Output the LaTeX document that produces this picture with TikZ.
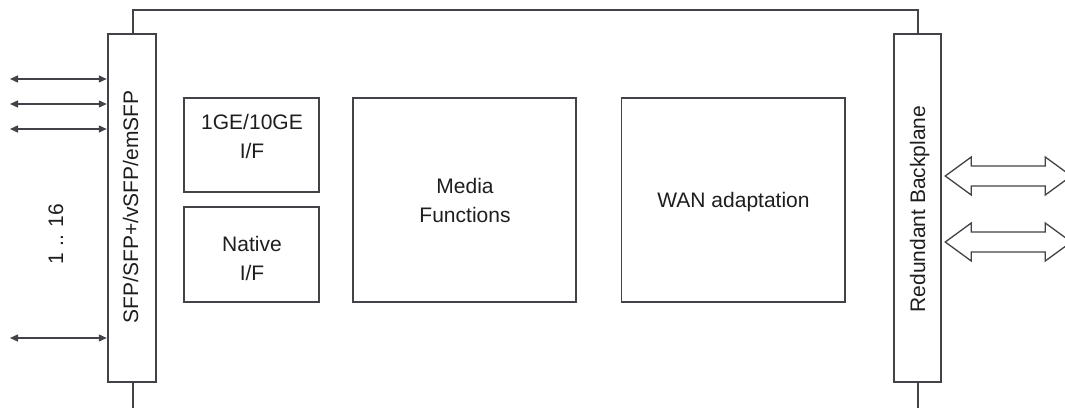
\documentclass[tikz,border=0pt]{standalone}
\usepackage{fontspec}
\setmainfont{Liberation Sans}
\usetikzlibrary{arrows.meta,calc}
\definecolor{linec}{RGB}{66,66,72}
\definecolor{textc}{RGB}{30,30,30}
\tikzset{
  blk/.style={draw=linec, line width=1.5pt, fill=white, inner sep=0pt, minimum width=#1},
  lbl/.style={text=textc, font=\fontsize{21}{29}\selectfont, align=center, inner sep=0pt},
  wire/.style={draw=linec, line width=1.5pt},
  port/.style={draw=linec, line width=1.3pt, {Triangle[length=8pt,width=7pt]}-{Triangle[length=8pt,width=7pt]}, shorten >=0.5pt},
  bigarrow/.style={draw=linec, line width=1.3pt, fill=white, line join=miter},
}
\begin{document}
\begin{tikzpicture}[x=1pt,y=1pt]
\useasboundingbox (0,0) rectangle (1065,408);
% rails
\coordinate (topL) at (133,398);
\coordinate (topR) at (918,398);
\coordinate (botL) at (133,0);
\coordinate (botR) at (918,0);
% SFP and backplane blocks
\node[blk=48, minimum height=348] (sfp) at (132,200) {};
\node[blk=47, minimum height=348] (bp) at (917.5,200) {};
\draw[wire] (sfp.north -| topL) -- (topL) -- (topR) -- (bp.north -| topR);
\draw[wire] (sfp.south -| botL) -- (botL);
\draw[wire] (bp.south -| botR) -- (botR);
\node[lbl, rotate=90, anchor=base] (sfpt) at (138,201) {SFP/SFP+/vSFP/emSFP};
\node[lbl, rotate=90, anchor=base] (bpt) at (925,199) {Redundant Backplane};
% inner blocks
\node[blk=135, minimum height=94] (ge) at (251.5,263) {};
\node[blk=135, minimum height=95] (nat) at (251.5,153.5) {};
\node[blk=223, minimum height=204] (media) at (464.5,208) {};
\node[blk=223.5, minimum height=204] (wan) at (733.25,208) {};
\node[lbl] (get) at (252,271.5) {1GE/10GE\\I/F};
\node[lbl] (natt) at (252,150) {Native\\I/F};
\node[lbl] (mediat) at (465,208) {Media\\Functions};
\node[lbl, anchor=base] (want) at (733.5,201) {WAN adaptation};
% ports
\node[lbl, rotate=90, anchor=base] (cnt) at (63,174) {1 .. 16};
\coordinate (p1) at (10,329);
\coordinate (p2) at (10,304);
\coordinate (p3) at (10,279);
\coordinate (p4) at (10,70);
\foreach \p in {p1,p2,p3,p4} \draw[port] (\p) -- (\p -| sfp.west);
% backplane double arrows
\foreach \cy [count=\i] in {232,166} {
  \draw[bigarrow] ($(bp.east |- 0,\cy)+(3.5,0)$) coordinate (da\i)
    -- ++(26,19) -- ++(0,-9) -- ++(74,0) -- ++(0,9) -- ++(26,-19)
    -- ++(-26,-19) -- ++(0,9) -- ++(-74,0) -- ++(0,-9) -- cycle;
}
\end{tikzpicture}
\end{document}
